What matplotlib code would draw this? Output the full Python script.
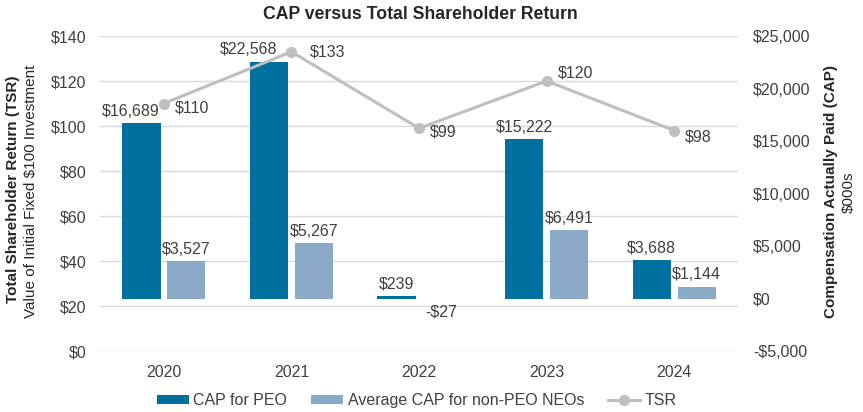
import numpy as np
import matplotlib.pyplot as plt
from matplotlib.ticker import FuncFormatter

plt.rcParams['font.family'] = ['Liberation Sans', 'DejaVu Sans']

# Data
years = ['2020', '2021', '2022', '2023', '2024']
cap_peo = [16689, 22568, 239, 15222, 3688]
cap_neo = [3527, 5267, -27, 6491, 1144]
tsr = [110, 133, 99, 120, 98]

# label offsets (points), shifted where the TSR line crowds the labels
peo_dx = [-8, -15, 0, 0, 0]
tsr_dx = [8, 13, 8, 8, 8]
tsr_dy = [-3, 0, -3, 6, -5]

peo_color = '#00719E'
neo_color = '#8AAAC8'
tsr_color = '#BFBFBF'
text_color = '#404040'

fig = plt.figure(figsize=(8.63, 4.12), dpi=100)
ax = fig.add_axes([0.1159, 0.148, 0.7393, 0.7646])
ax2 = ax.twinx()

x = np.arange(len(years))
w = 0.30
off = 0.176

# gridlines at the left-axis ticks, behind the bars
for t in np.arange(0, 141, 20):
    ax2.axhline(-5000 + t * 30000 / 140, color='#D9D9D9', lw=1, zorder=0)

# Bars on the CAP (right) axis
b1 = ax2.bar(x - off, cap_peo, w, color=peo_color, label='CAP for PEO', zorder=2)
b2 = ax2.bar(x + off, cap_neo, w, color=neo_color, label='Average CAP for non-PEO NEOs', zorder=2)

for i in range(len(years)):
    ax2.annotate(f'${cap_peo[i]:,}', (x[i] - off, cap_peo[i]), xytext=(peo_dx[i], 3),
                 textcoords='offset points', ha='center', va='bottom', fontsize=11.5, color=text_color)
    v = cap_neo[i]
    lab = f'${v:,}' if v >= 0 else f'-${-v:,}'
    ax2.annotate(lab, (x[i] + off, v), xytext=(0, 3 if v >= 0 else -4),
                 textcoords='offset points', ha='center', va='bottom' if v >= 0 else 'top',
                 fontsize=11.5, color=text_color)

ax2.set_ylim(-5000, 25000)
ax2.set_yticks(np.arange(-5000, 25001, 5000))
ax2.yaxis.set_major_formatter(FuncFormatter(lambda v, p: f'${v:,.0f}' if v >= 0 else f'-${-v:,.0f}'))

# TSR line on the left axis, drawn above bars
ax.set_zorder(ax2.get_zorder() + 1)
ax.patch.set_visible(False)
ln, = ax.plot(x, tsr, color=tsr_color, lw=2.2, marker='o', markersize=7, label='TSR', zorder=3)
for i in range(len(years)):
    ax.annotate(f'${tsr[i]}', (x[i], tsr[i]), xytext=(tsr_dx[i], tsr_dy[i]), textcoords='offset points',
                ha='left', va='center', fontsize=11.5, color=text_color)

ax.set_ylim(0, 140)
ax.set_yticks(np.arange(0, 141, 20))
ax.yaxis.set_major_formatter(FuncFormatter(lambda v, p: f'${v:.0f}'))
ax.set_xlim(-0.5, 4.5)
ax.set_xticks(x)
ax.set_xticklabels(years)

for a in (ax, ax2):
    for s in a.spines.values():
        s.set_visible(False)
    a.tick_params(length=0, labelsize=11.5, colors=text_color)
ax.tick_params(axis='y', pad=10)
ax.tick_params(axis='x', pad=10)
ax2.tick_params(axis='y', pad=11)

fig.text(0.487, 0.965, 'CAP versus Total Shareholder Return', ha='center', va='center',
         fontsize=12.7, fontweight='bold', color='#262626')
fig.text(0.015, 0.54, 'Total Shareholder Return (TSR)', rotation=90, ha='center', va='center',
         fontsize=11, fontweight='bold', color='#262626')
fig.text(0.036, 0.535, 'Value of Initial Fixed $100 Investment', rotation=90, ha='center', va='center',
         fontsize=11, color='#262626')
fig.text(0.963, 0.534, 'Compensation Actually Paid (CAP)', rotation=90, ha='center', va='center',
         fontsize=11, fontweight='bold', color='#262626')
fig.text(0.984, 0.534, '$000s', rotation=90, ha='center', va='center',
         fontsize=11, color='#262626')

fig.legend(handles=[b1, b2, ln], loc='lower center', bbox_to_anchor=(0.483, -0.025), ncol=3,
           frameon=False, fontsize=11.5, handlelength=2.0, handleheight=0.45,
           columnspacing=1.5, handletextpad=0.3, labelcolor=text_color)

fig.savefig('out.png', dpi=100)
